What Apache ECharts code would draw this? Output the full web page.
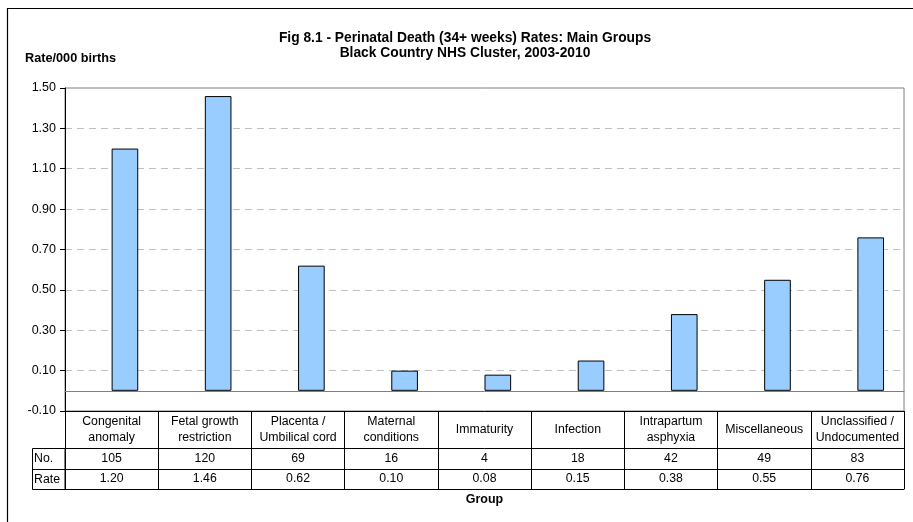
<!DOCTYPE html>
<html>
<head>
<meta charset="utf-8">
<script src="https://cdn.jsdelivr.net/npm/echarts@6/dist/echarts.min.js"></script>
<style>
html,body{margin:0;padding:0;background:#fff;}
#c{width:913px;height:522px;}
</style>
</head>
<body>
<div id="c"></div>
<script>
var categories = ['Congenital\nanomaly', 'Fetal growth\nrestriction', 'Placenta /\nUmbilical cord', 'Maternal\nconditions', 'Immaturity', 'Infection', 'Intrapartum\nasphyxia', 'Miscellaneous', 'Unclassified /\nUndocumented'];
var counts = [105, 120, 69, 16, 4, 18, 42, 49, 83];
var rates = [1.20, 1.46, 0.62, 0.10, 0.08, 0.15, 0.38, 0.55, 0.76];
var placeholder = [null, null, null, null, null, null, null, null, null];
var rowLabels = ['No.', 'Rate'];

var FONT = 'Liberation Sans, Arial, sans-serif';
var chart = echarts.init(document.getElementById('c'), null, {renderer: 'canvas'});

var rateLabels = rates.map(function (v) { return v.toFixed(2); });
var countLabels = counts.map(function (v) { return String(v); });

function tableAxis(data, offset, margin, extra) {
  var ax = {
    type: 'category',
    data: data,
    position: 'bottom',
    offset: offset,
    boundaryGap: true,
    axisLine: {show: true, onZero: false, lineStyle: {color: '#000', width: 1}},
    axisTick: {show: false},
    axisLabel: {show: true, interval: 0, margin: margin, verticalAlign: 'middle', color: '#000', fontFamily: FONT, fontSize: 12.3, lineHeight: 16},
    splitLine: {show: false}
  };
  if (extra) { for (var k in extra) ax[k] = extra[k]; }
  return ax;
}

var option = {
  backgroundColor: '#fff',
  animation: false,
  title: [
    {
      text: 'Fig 8.1 - Perinatal Death (34+ weeks) Rates: Main Groups\nBlack Country NHS Cluster, 2003-2010',
      left: 465, top: 30, textAlign: 'center', padding: 0,
      textStyle: {fontFamily: FONT, fontSize: 13.8, fontWeight: 'bold', color: '#000', lineHeight: 15.5}
    },
    {
      text: 'Rate/000 births',
      left: 25, top: 52, padding: 0,
      textStyle: {fontFamily: FONT, fontSize: 12.7, fontWeight: 'bold', color: '#000'}
    }
  ],
  grid: {
    left: 65, right: 9, top: 88, bottom: 111,
    show: true, borderColor: '#808080', borderWidth: 1, backgroundColor: 'transparent',
    containLabel: false, outerBoundsMode: 'none'
  },
  xAxis: [
    {
      type: 'category', data: categories, position: 'bottom', boundaryGap: true,
      axisLine: {show: true, onZero: true, lineStyle: {color: '#808080', width: 1}},
      axisTick: {show: false}, axisLabel: {show: false}, splitLine: {show: false}
    },
    tableAxis(categories, 0, 18.5, {
      axisTick: {show: true, interval: 0, length: 78, alignWithLabel: false, lineStyle: {color: '#000', width: 1}}
    }),
    tableAxis(countLabels, 37, 10.5),
    tableAxis(rateLabels, 58, 10),
    tableAxis(categories, 78, 0, {
      axisLabel: {show: false},
      name: 'Group', nameLocation: 'middle', nameGap: 4,
      nameTextStyle: {fontFamily: FONT, fontSize: 12.5, fontWeight: 'bold', color: '#000', verticalAlign: 'top'}
    })
  ],
  yAxis: {
    type: 'value', min: -0.1, max: 1.5, interval: 0.2,
    axisLine: {show: true, lineStyle: {color: '#000', width: 1}},
    axisTick: {show: true, length: 5, lineStyle: {color: '#000'}},
    axisLabel: {
      margin: 9, color: '#000', fontFamily: FONT, fontSize: 12.5,
      formatter: function (v) { return v.toFixed(2); }
    },
    splitLine: {show: true, showMinLine: false, showMaxLine: false, lineStyle: {color: '#c0c0c0', type: [7, 5], width: 1}}
  },
  series: [
    {
      type: 'bar', name: 'spacer', xAxisIndex: 0, data: placeholder,
      barWidth: '28.57%', barGap: '0%', silent: true,
      itemStyle: {color: 'transparent'}
    },
    {
      type: 'bar', name: 'Rate', xAxisIndex: 0, data: rates,
      barWidth: '28.57%', barGap: '0%',
      itemStyle: {color: '#99CCFF', borderColor: '#000', borderWidth: 1}
    }
  ],
  graphic: [
    {type: 'rect', shape: {x: 7.5, y: 8.5, width: 1000, height: 1000}, style: {fill: 'none', stroke: '#000', lineWidth: 1.2}, silent: true, z: 100},
    {type: 'rect', shape: {x: 32.5, y: 448.5, width: 32.5, height: 41}, style: {fill: 'none', stroke: '#000', lineWidth: 1}, silent: true, z: 100},
    {type: 'line', shape: {x1: 32.5, y1: 469.5, x2: 65, y2: 469.5}, style: {stroke: '#000', lineWidth: 1}, silent: true, z: 100},
    {type: 'text', x: 34, y: 459, style: {text: rowLabels[0], fontFamily: FONT, fontSize: 12.3, fill: '#000', verticalAlign: 'middle'}, silent: true, z: 100},
    {type: 'text', x: 34, y: 479.5, style: {text: rowLabels[1], fontFamily: FONT, fontSize: 12.3, fill: '#000', verticalAlign: 'middle'}, silent: true, z: 100}
  ]
};
chart.setOption(option);
</script>
</body>
</html>
